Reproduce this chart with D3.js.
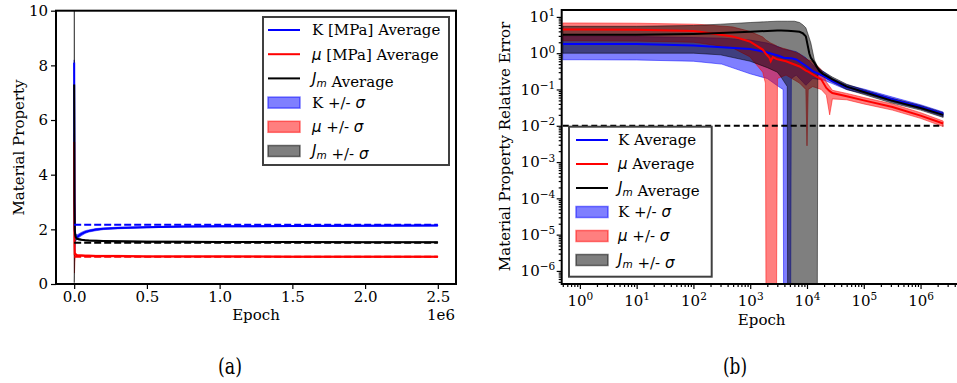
<!DOCTYPE html>
<html>
<head>
<meta charset="utf-8">
<title>Material property convergence</title>
<script src="https://cdn.jsdelivr.net/npm/d3@7"></script>
<style>
  body { margin: 0; background: #fff; }
  text { font-family: "DejaVu Serif", serif; }
</style>
</head>
<body>
<svg id="fig" width="957" height="383"></svg>
<script>
// ---------- (a) material property vs epoch ----------
var propEpoch = [0, 1000, 2000, 4000, 7000, 10000, 15000, 20000, 30000, 50000, 75000,
                 100000, 150000, 200000, 300000, 500000, 750000, 1000000, 1500000, 2000000, 2500000];
var kProp   = [8.1, 6.0, 3.5, 2.0, 1.75, 1.7, 1.7, 1.72, 1.76, 1.83, 1.9, 1.94, 1.99, 2.02, 2.05, 2.08, 2.1, 2.11, 2.12, 2.13, 2.14];
var kPropLo = [6.5, 4.5, 2.5, 1.2, 1.55, 1.58, 1.6, 1.64, 1.69, 1.77, 1.85, 1.9, 1.95, 1.99, 2.02, 2.06, 2.08, 2.09, 2.1, 2.11, 2.12];
var kPropHi = [8.2, 7.0, 4.5, 2.6, 2.0, 1.85, 1.8, 1.8, 1.83, 1.89, 1.95, 1.98, 2.03, 2.05, 2.08, 2.1, 2.12, 2.13, 2.14, 2.15, 2.16];
var muProp   = [5.2, 3.0, 1.5, 1.05, 1.1, 1.08, 1.06, 1.05, 1.04, 1.04, 1.03, 1.03, 1.02, 1.02, 1.02, 1.01, 1.01, 1.01, 1.0, 1.0, 1.0];
var muPropLo = [4.5, 1.0, 0.4, 0.8, 1.0, 1.02, 1.02, 1.02, 1.01, 1.01, 1.0, 1.0, 0.99, 0.99, 0.99, 0.99, 0.99, 0.99, 0.98, 0.98, 0.98];
var muPropHi = [5.5, 4.0, 2.0, 1.3, 1.2, 1.14, 1.1, 1.08, 1.07, 1.07, 1.06, 1.06, 1.05, 1.05, 1.05, 1.03, 1.03, 1.03, 1.02, 1.02, 1.02];
var jmProp   = [7.3, 5.5, 3.0, 2.0, 1.8, 1.72, 1.68, 1.66, 1.64, 1.62, 1.6, 1.59, 1.58, 1.57, 1.56, 1.55, 1.55, 1.54, 1.54, 1.53, 1.53];
var jmPropLo = [0.05, 0.05, 0.3, 1.2, 1.55, 1.62, 1.63, 1.63, 1.62, 1.6, 1.58, 1.57, 1.56, 1.55, 1.54, 1.54, 1.54, 1.53, 1.53, 1.52, 1.52];
var jmPropHi = [14, 12, 8, 3.0, 2.1, 1.85, 1.75, 1.7, 1.67, 1.64, 1.62, 1.61, 1.6, 1.59, 1.58, 1.57, 1.56, 1.55, 1.55, 1.54, 1.54];
var trueEpoch = [0, 2500000];
var trueK = 2.17, trueMu = 1.0, trueJm = 1.51;
var propXTicks = [0, 500000, 1000000, 1500000, 2000000, 2500000];
var propYTicks = [0, 2, 4, 6, 8, 10];

// ---------- (b) relative error vs epoch (log-log) ----------
// 1e-8 = band's lower edge falls below the axis
var kErrEpoch = [0.5, 1, 10, 100, 316, 1000, 2000, 3160, 3800, 3890, 5130, 5300, 6460, 9550, 12600, 20000, 28000, 49000, 1e5, 3.7e5, 1e6, 2.5e6];
var kErr   = [1.8, 1.8, 1.78, 1.62, 1.45, 1.3, 1.05, 0.85, 0.76, 0.75, 0.72, 0.72, 0.67, 0.45, 0.32, 0.23, 0.17, 0.117, 0.09, 0.05, 0.033, 0.021];
var kErrLo = [0.66, 0.66, 0.65, 0.6, 0.5, 0.27, 0.2, 0.12, 0.1, 1e-8, 1e-8, 0.2, 0.25, 0.13, 0.2, 0.18, 0.145, 0.1, 0.078, 0.043, 0.029, 0.018];
var kErrHi = [2.9, 2.9, 2.88, 2.7, 2.6, 2.3, 1.9, 1.5, 1.3, 1.28, 1.2, 1.18, 1.1, 0.75, 0.48, 0.3, 0.2, 0.135, 0.103, 0.058, 0.038, 0.024];

var muErrEpoch = [0.5, 1, 10, 100, 130, 490, 980, 1660, 1850, 1905, 2190, 2300, 2500, 2884, 3020, 4270, 7400, 9550, 10000, 10500,
                  12600, 17800, 21900, 25100, 28000, 50000, 1e5, 3.2e5, 1e6, 2.5e6];
var muErr   = [4.5, 4.5, 4.4, 4.1, 3.9, 2.9, 2.1, 1.26, 1.0, 0.95, 0.74, 0.6, 0.78, 0.7, 0.68, 0.6, 0.43, 0.33, 0.32, 0.31,
               0.26, 0.19, 0.11, 0.09, 0.08, 0.065, 0.05, 0.033, 0.019, 0.0115];
var muErrLo = [2.2, 2.2, 2.15, 2.0, 1.9, 1.4, 0.8, 0.3, 0.15, 1e-8, 1e-8, 1e-8, 1e-8, 1e-8, 0.2, 0.25, 0.15, 0.1, 0.0028, 0.1,
               0.12, 0.1, 0.07, 0.02, 0.055, 0.052, 0.04, 0.027, 0.016, 0.0095];
var muErrHi = [6.8, 6.8, 6.7, 6.3, 6.2, 5.3, 4.0, 2.8, 2.4, 2.3, 2.0, 1.9, 1.8, 1.6, 1.5, 1.3, 0.95, 0.7, 0.68, 0.65,
               0.6, 0.35, 0.16, 0.12, 0.095, 0.078, 0.06, 0.04, 0.023, 0.0135];

var jmErrEpoch = [0.5, 1, 10, 100, 300, 1000, 2000, 3000, 3500, 4500, 4571, 6000, 7400, 8500, 9550, 11000, 11700, 13500,
                  15136, 15500, 16600, 19000, 28000, 50000, 1e5, 3e5, 1e6, 2.5e6];
var jmErr   = [3.2, 3.2, 3.2, 3.4, 3.6, 3.9, 4.1, 4.2, 4.2, 4.15, 4.15, 4.0, 3.9, 3.5, 2.9, 0.98, 0.75, 0.54,
               0.4, 0.38, 0.32, 0.27, 0.19, 0.12, 0.085, 0.05, 0.031, 0.020];
var jmErrLo = [1.0, 1.0, 1.0, 1.0, 0.9, 0.6, 0.4, 0.3, 0.22, 0.12, 1e-8, 1e-8, 1e-8, 1e-8, 1e-8, 1e-8, 1e-8, 1e-8,
               1e-8, 0.25, 0.26, 0.23, 0.16, 0.1, 0.073, 0.043, 0.027, 0.017];
var jmErrHi = [5.5, 5.5, 5.5, 5.8, 6.3, 7.0, 7.4, 7.6, 7.6, 7.6, 7.6, 7.6, 7.0, 6.0, 5.0, 2.6, 1.9, 0.65,
               0.45, 0.43, 0.38, 0.32, 0.22, 0.14, 0.098, 0.058, 0.036, 0.023];
var tolEpoch = [0.5, 2.5e6];
var tolErr = 0.01;
var errXTicks = [1, 10, 100, 1e3, 1e4, 1e5, 1e6];
var errYTicks = [1e-6, 1e-5, 1e-4, 1e-3, 1e-2, 1e-1, 1, 10];

var leftLegend  = ["K [MPa] Average", "μ [MPa] Average", "J_m Average", "K +/- σ", "μ +/- σ", "J_m +/- σ"];
var rightLegend = ["K Average", "μ Average", "J_m Average", "K +/- σ", "μ +/- σ", "J_m +/- σ"];
var colors = ["#0000ff", "#ff0000", "#000000"];

var FS = 15;
var svg = d3.select("#fig");

// scales (limits as matplotlib picked them)
var xA = d3.scaleLinear().domain([-0.125e6, 2.625e6]).range([56, 456]);
var yA = d3.scaleLinear().domain([0, 10]).range([284, 10.7]);
var xB = d3.scaleLog().domain([Math.pow(10, -0.32), Math.pow(10, 6.73)]).range([561.7, 962]);
var yB = d3.scaleLog().domain([Math.pow(10, -6.36), Math.pow(10, 1.19)]).range([284, 10]);

var defs = svg.append("defs");
defs.append("clipPath").attr("id", "clipA").append("rect")
    .attr("x", 56).attr("y", 10.7).attr("width", 400).attr("height", 273.3);
defs.append("clipPath").attr("id", "clipB").append("rect")
    .attr("x", 561.7).attr("y", 10).attr("width", 400.3).attr("height", 274);

// labels with italic math bits: μ, σ and J_m
function mathText(sel, str) {
  str.split(/(μ|σ|J_m)/).forEach(function (part) {
    if (!part) return;
    if (part === "J_m") {
      sel.append("tspan").attr("font-family", "DejaVu Sans").attr("font-style", "italic").text("J");
      sel.append("tspan").attr("font-family", "DejaVu Sans").attr("font-style", "italic")
         .attr("font-size", 10.5).attr("dy", 3).text("m");
      sel.append("tspan").attr("dy", -3).text("");
    } else if (part === "μ" || part === "σ") {
      sel.append("tspan").attr("font-family", "DejaVu Sans").attr("font-style", "italic").text(part);
    } else {
      sel.append("tspan").text(part);
    }
  });
}

function drawSeries(g, x, y, epochs, mean, lo, hi, color) {
  var idx = d3.range(epochs.length);
  var area = d3.area()
      .x(function (i) { return x(epochs[i]); })
      .y0(function (i) { return y(lo[i]); })
      .y1(function (i) { return y(hi[i]); });
  g.select(".bands").append("path")
      .attr("d", area(idx))
      .attr("fill", color).attr("fill-opacity", 0.5)
      .attr("stroke", color).attr("stroke-opacity", 0.5).attr("stroke-width", 1);
  var line = d3.line()
      .x(function (i) { return x(epochs[i]); })
      .y(function (i) { return y(mean[i]); });
  g.select(".lines").append("path")
      .attr("d", line(idx))
      .attr("fill", "none").attr("stroke", color).attr("stroke-width", 2);
}

function dashed(g, x, y, xs, val, color, dash) {
  g.select(".lines").append("path")
      .attr("d", d3.line().x(function (d) { return x(d); }).y(y(val))(xs))
      .attr("fill", "none").attr("stroke", color).attr("stroke-width", 2)
      .attr("stroke-dasharray", dash);
}

function legend(labels, bx, by, bw, bh, hx, tx, y0, step) {
  var g = svg.append("g");
  g.append("rect").attr("x", bx).attr("y", by).attr("width", bw).attr("height", bh)
      .attr("fill", "#fff").attr("fill-opacity", 0.85)
      .attr("stroke", "#404040").attr("stroke-width", 2);
  labels.forEach(function (lab, i) {
    var cy = y0 + i * step, c = colors[i % 3];
    if (i < 3) {
      g.append("line").attr("x1", hx).attr("x2", hx + 32).attr("y1", cy).attr("y2", cy)
          .attr("stroke", c).attr("stroke-width", 2);
    } else {
      g.append("rect").attr("x", hx).attr("y", cy - 5.5).attr("width", 32).attr("height", 11)
          .attr("fill", c).attr("fill-opacity", 0.5)
          .attr("stroke", c).attr("stroke-opacity", 0.5).attr("stroke-width", 1.5);
    }
    var t = g.append("text").attr("x", tx).attr("y", cy + 5.4).attr("font-size", FS);
    mathText(t, lab);
  });
}

function styleAxis(g) {
  g.select(".domain").remove();
  g.attr("font-family", "DejaVu Serif").attr("font-size", FS);
  g.selectAll(".tick line").attr("stroke-width", 1.2);
  g.selectAll("text").attr("fill", "#000");
}

// ---------- panel (a) ----------
var gA = svg.append("g");
var plotA = gA.append("g").attr("clip-path", "url(#clipA)");
plotA.append("g").attr("class", "bands");
plotA.append("g").attr("class", "lines");
drawSeries(plotA, xA, yA, propEpoch, kProp, kPropLo, kPropHi, colors[0]);
drawSeries(plotA, xA, yA, propEpoch, muProp, muPropLo, muPropHi, colors[1]);
drawSeries(plotA, xA, yA, propEpoch, jmProp, jmPropLo, jmPropHi, colors[2]);
dashed(plotA, xA, yA, trueEpoch, trueK, colors[0], "7,3");
dashed(plotA, xA, yA, trueEpoch, trueMu, colors[1], "7,3");
dashed(plotA, xA, yA, trueEpoch, trueJm, colors[2], "7,3");

gA.append("g").attr("transform", "translate(0,284)")
    .call(d3.axisBottom(xA).tickValues(propXTicks).tickSize(5).tickPadding(2)
      .tickFormat(function (d) { return (d / 1e6).toFixed(1); }))
    .call(styleAxis);
gA.append("g").attr("transform", "translate(56,0)")
    .call(d3.axisLeft(yA).tickValues(propYTicks).tickSize(5).tickPadding(3))
    .call(styleAxis);
gA.append("rect").attr("x", 56).attr("y", 10.7).attr("width", 400).attr("height", 273.3)
    .attr("fill", "none").attr("stroke", "#000").attr("stroke-width", 2);
gA.append("text").attr("x", 256).attr("y", 320).attr("text-anchor", "middle").attr("font-size", FS).text("Epoch");
gA.append("text").attr("x", 455).attr("y", 320).attr("text-anchor", "end").attr("font-size", FS).text("1e6");
gA.append("text").attr("transform", "translate(23.5,147.5) rotate(-90)").attr("text-anchor", "middle")
    .attr("font-size", FS).text("Material Property");
legend(leftLegend, 263, 17, 186, 148, 268, 312, 30, 24.2);

// ---------- panel (b) ----------
var gB = svg.append("g");
var plotB = gB.append("g").attr("clip-path", "url(#clipB)");
plotB.append("g").attr("class", "bands");
plotB.append("g").attr("class", "lines");
drawSeries(plotB, xB, yB, kErrEpoch, kErr, kErrLo, kErrHi, colors[0]);
drawSeries(plotB, xB, yB, muErrEpoch, muErr, muErrLo, muErrHi, colors[1]);
drawSeries(plotB, xB, yB, jmErrEpoch, jmErr, jmErrLo, jmErrHi, colors[2]);
dashed(plotB, xB, yB, tolEpoch, tolErr, "#000", "6,3.5");

function isMajor(d) { return Math.abs(Math.log10(d) - Math.round(Math.log10(d))) < 1e-6; }
var xMinor = xB.ticks().filter(function (d) { return !isMajor(d); });
var yMinor = yB.ticks().filter(function (d) { return !isMajor(d); });

function supLabels(g) {
  g.selectAll(".tick text").each(function (d) {
    var t = d3.select(this), e = Math.round(Math.log10(d));
    t.text("");
    t.append("tspan").text("10");
    t.append("tspan").attr("font-size", 10.5).attr("dy", "-0.55em")
        .text(e < 0 ? "\u2212" + (-e) : String(e));
  });
}

gB.append("g").attr("transform", "translate(0,284)")
    .call(d3.axisBottom(xB).tickValues(xMinor).tickSize(3).tickFormat(""))
    .call(styleAxis);
gB.append("g").attr("transform", "translate(0,284)")
    .call(d3.axisBottom(xB).tickValues(errXTicks).tickSize(5).tickPadding(6))
    .call(styleAxis).call(supLabels);
gB.append("g").attr("transform", "translate(561.7,0)")
    .call(d3.axisLeft(yB).tickValues(yMinor).tickSize(3).tickFormat(""))
    .call(styleAxis);
gB.append("g").attr("transform", "translate(561.7,0)")
    .call(d3.axisLeft(yB).tickValues(errYTicks).tickSize(5).tickPadding(1.5))
    .call(styleAxis).call(supLabels);
gB.append("rect").attr("x", 561.7).attr("y", 10).attr("width", 400.3).attr("height", 274)
    .attr("fill", "none").attr("stroke", "#000").attr("stroke-width", 2);
gB.append("text").attr("x", 761.7).attr("y", 325).attr("text-anchor", "middle").attr("font-size", FS).text("Epoch");
gB.append("text").attr("transform", "translate(510,146.5) rotate(-90)").attr("text-anchor", "middle")
    .attr("font-size", FS).text("Material Property Relative Error");
legend(rightLegend, 569, 126.7, 142.7, 150, 576, 618, 140, 24);

// captions
svg.append("text").attr("x", 230).attr("y", 374).attr("text-anchor", "middle")
    .attr("font-family", "Liberation Serif").attr("font-size", 23)
    .attr("textLength", 24).attr("lengthAdjust", "spacingAndGlyphs").text("(a)");
svg.append("text").attr("x", 735).attr("y", 374).attr("text-anchor", "middle")
    .attr("font-family", "Liberation Serif").attr("font-size", 23)
    .attr("textLength", 24).attr("lengthAdjust", "spacingAndGlyphs").text("(b)");
</script>
</body>
</html>
